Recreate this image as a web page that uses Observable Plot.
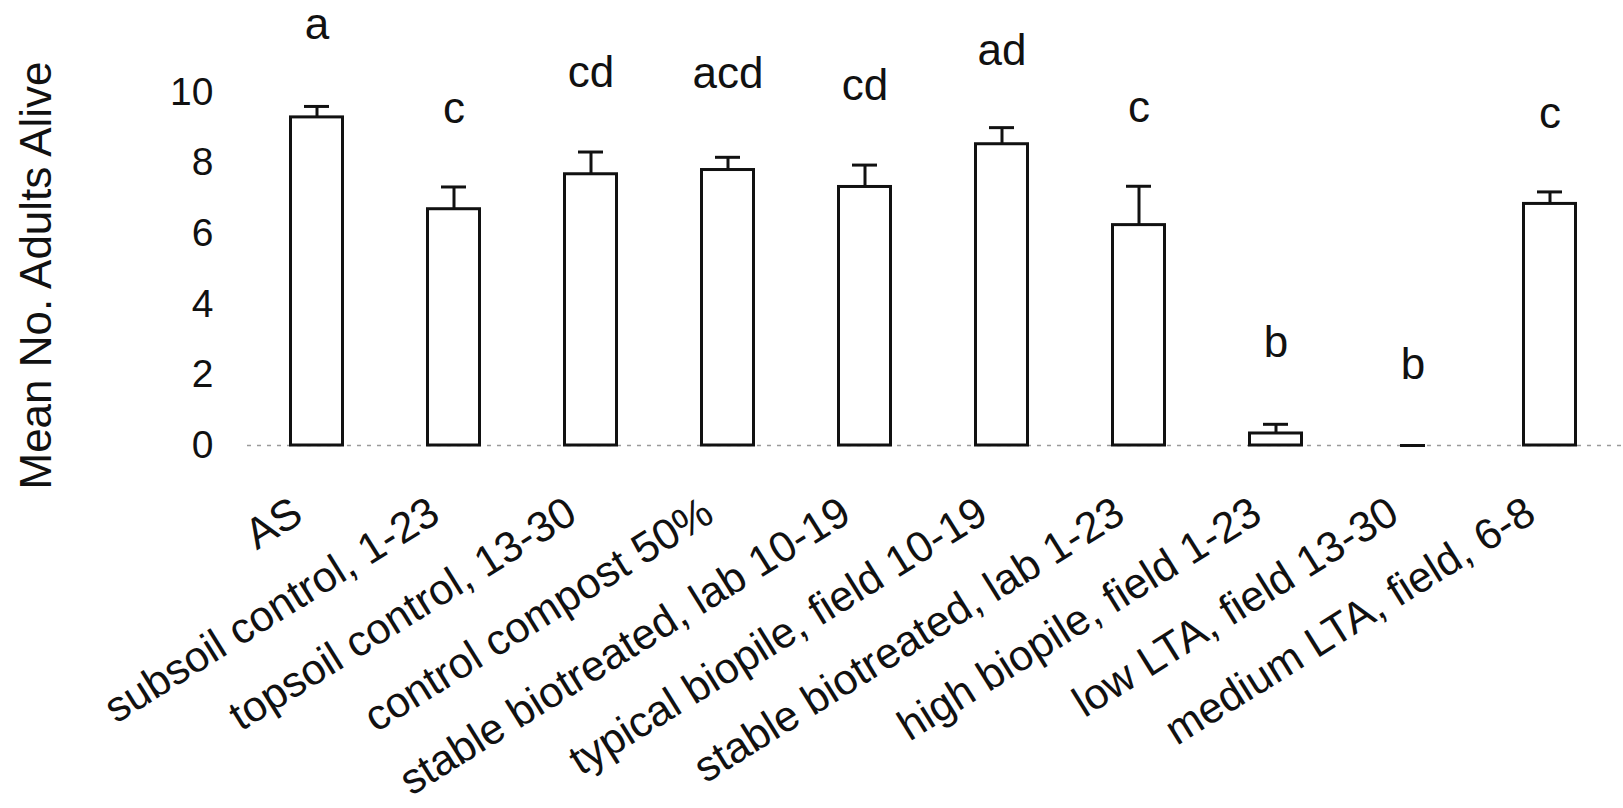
<!DOCTYPE html>
<html>
<head>
<meta charset="utf-8">
<script src="https://cdn.jsdelivr.net/npm/d3@7"></script>
<script src="https://cdn.jsdelivr.net/npm/@observablehq/plot@0.6"></script>
<style>
  html, body { margin: 0; padding: 0; background: #ffffff; overflow: hidden; }
  #chart svg { display: block; }
</style>
</head>
<body>
<div id="chart"></div>
<script>
// Treatments (x categories)
const categories = [
  "AS",
  "subsoil control, 1-23",
  "topsoil control, 13-30",
  "control compost 50%",
  "stable biotreated, lab 10-19",
  "typical biopile, field 10-19",
  "stable biotreated, lab 1-23",
  "high biopile, field 1-23",
  "low LTA, field 13-30",
  "medium LTA, field, 6-8"
];
// Mean number of adults alive
const means = [9.29, 6.69, 7.68, 7.80, 7.32, 8.53, 6.24, 0.34, 0.0, 6.84];
// Standard error (upper error bar)
const errors = [0.31, 0.63, 0.63, 0.36, 0.62, 0.47, 1.10, 0.26, 0.0, 0.34];
// Significance letters and the value height at which each letter sits
const letters = ["a", "c", "cd", "acd", "cd", "ad", "c", "b", "b", "c"];
const letterLevels = [11.5, 9.12, 10.14, 10.11, 9.77, 10.76, 9.15, 2.51, 1.89, 8.98];
// Y tick values
const yTicks = [0, 2, 4, 6, 8, 10];
const yTitle = "Mean No. Adults Alive";

const rows = categories.map((c, i) => ({
  cat: c, mean: means[i], top: means[i] + errors[i],
  letter: letters[i], level: letterLevels[i]
}));

const FONT = "'Liberation Sans', Arial, Helvetica, sans-serif";

const chart = Plot.plot({
  width: 1623,
  height: 808,
  marginTop: 0,
  marginBottom: 363,
  marginLeft: 259,
  marginRight: 17,
  style: {fontFamily: FONT, background: "#ffffff", color: "#111", overflow: "visible"},
  x: {domain: categories, paddingInner: 0.6, paddingOuter: 0.2, label: null},
  y: {domain: [0, 12.6], label: null},
  marks: [
    Plot.ruleY([0], {stroke: "#9a9a9a", strokeWidth: 1.5, strokeDasharray: "4,6", insetLeft: -12, insetRight: -17}),
    Plot.ruleX(rows, {x: "cat", y1: "mean", y2: "top", stroke: "#111", strokeWidth: 3}),
    Plot.tickY(rows, {x: "cat", y: "top", stroke: "#111", strokeWidth: 3, insetLeft: 15, insetRight: 15}),
    Plot.barY(rows.filter(d => d.mean > 0), {x: "cat", y: "mean", fill: "#ffffff", stroke: "#111", strokeWidth: 3, insetLeft: 1.5, insetRight: 1.5}),
    Plot.text(rows, {x: "cat", y: "level", text: "letter", lineAnchor: "bottom", fontSize: 44, fill: "#111"}),
    Plot.axisY({ticks: yTicks, tickSize: 0, tickPadding: 46, fontSize: 39, label: null}),
    Plot.axisX({tickSize: 0, tickPadding: 63, dx: -19, tickRotate: -32, textAnchor: "end", lineAnchor: "middle", fontSize: 43, label: null}),
    Plot.text([yTitle], {frameAnchor: "top-left", dx: -209, dy: 275, rotate: -90, textAnchor: "middle", lineAnchor: "bottom", fontSize: 44, fill: "#111"})
  ]
});
document.getElementById("chart").append(chart);
</script>
</body>
</html>
